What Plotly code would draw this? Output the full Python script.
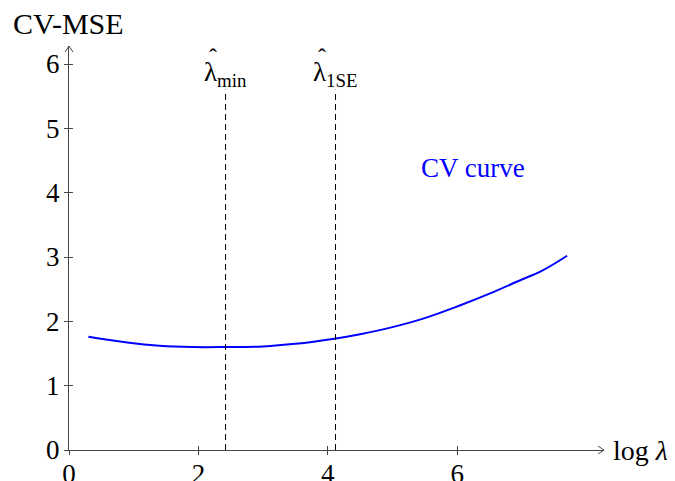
import plotly.graph_objects as go

# Data
log_lambda = [0.3, 0.9, 1.4, 1.9, 2.4, 3.0, 3.5, 4.1, 4.5, 5.0, 5.5, 6.0, 6.5, 7.0, 7.3, 7.7]
cv_mse = [1.76, 1.67, 1.62, 1.60, 1.60, 1.61, 1.65, 1.73, 1.80, 1.91, 2.05, 2.23, 2.43, 2.65, 2.78, 3.02]
lambda_min = 2.42
lambda_1se = 4.12
vline_top = 5.6
x_ticks = [0, 2, 4, 6]
y_ticks = [0, 1, 2, 3, 4, 5, 6]

FONT = "Liberation Serif"
tsize = 27
axis_col = "#444444"

ML, MR, MT, MB = 61, 79, 38, 39

fig = go.Figure()
fig.add_trace(go.Scatter(x=log_lambda, y=cv_mse, mode="lines",
                         line=dict(color="#0000ff", width=2, shape="spline", smoothing=1.0),
                         showlegend=False, hoverinfo="skip"))
for xv in [lambda_min, lambda_1se]:
    fig.add_trace(go.Scatter(x=[xv, xv], y=[0, vline_top], mode="lines",
                             line=dict(color="black", width=1, dash="6px,4px"),
                             showlegend=False, hoverinfo="skip"))
fig.add_trace(go.Scatter(x=[0], y=[0], xaxis="x2", yaxis="y2", mode="markers",
                         marker=dict(opacity=0), showlegend=False, hoverinfo="skip"))

xr = [0, 8.27]
yr = [0, 6.28]
common = dict(showgrid=False, zeroline=False, showline=True, linecolor=axis_col,
              linewidth=1, tickcolor=axis_col, ticklen=4, tickwidth=1, automargin=False)
fig.update_layout(
    width=675, height=481,
    margin=dict(l=ML, r=MR, t=MT, b=MB, autoexpand=False),
    plot_bgcolor="white", paper_bgcolor="white",
    font=dict(family=FONT, size=tsize, color="black"),
    xaxis=dict(range=xr, tickvals=x_ticks, ticks="inside",
               tickfont=dict(size=tsize), ticklabelstandoff=0, **common),
    yaxis=dict(range=yr, tickvals=y_ticks, ticks="inside",
               tickfont=dict(size=tsize), ticklabelstandoff=3, **common),
    xaxis2=dict(range=xr, tickvals=x_ticks, ticks="outside", showticklabels=False,
                overlaying="x", anchor="y", showgrid=False, zeroline=False,
                showline=False, tickcolor=axis_col, ticklen=4, automargin=False),
    yaxis2=dict(range=yr, tickvals=y_ticks, ticks="outside", showticklabels=False,
                overlaying="y", anchor="x", showgrid=False, zeroline=False,
                showline=False, tickcolor=axis_col, ticklen=4, automargin=False),
)

pw, ph = 675 - ML - MR, 481 - MT - MB
dx, dy = 6 / pw, 4 / ph
fig.add_shape(type="path", xref="paper", yref="paper",
              path=f"M {1-dx} {dy} L 1 0 L {1-dx} {-dy}",
              line=dict(color=axis_col, width=1))
dx2, dy2 = 4 / pw, 6 / ph
fig.add_shape(type="path", xref="paper", yref="paper",
              path=f"M {-dx2} {1-dy2} L 0 1 L {dx2} {1-dy2}",
              line=dict(color=axis_col, width=1))

fig.add_annotation(text="CV-MSE", xref="paper", yref="paper", x=(3 - ML)/pw, y=1 + 22/ph,
                   xanchor="left", yanchor="middle", showarrow=False, font=dict(size=30))
fig.add_annotation(text="log <i>λ</i>", xref="paper", yref="paper", x=1 + 7/pw, y=0,
                   xanchor="left", yanchor="middle", showarrow=False, font=dict(size=28))
for xv, sub, hs in [(lambda_min, "min", -13), (lambda_1se, "1SE", -14)]:
    fig.add_annotation(text=f"λ<sub>{sub}</sub>", x=xv, y=5.85, showarrow=False,
                       font=dict(size=tsize), xanchor="center", yanchor="middle")
    fig.add_annotation(text="ˆ", x=xv, y=5.85, showarrow=False,
                       font=dict(size=24), xanchor="center", yanchor="middle",
                       xshift=hs, yshift=17)
fig.add_annotation(text="CV curve", x=6.25, y=4.38, showarrow=False,
                   font=dict(size=27, color="#0000ff"))

fig.write_html("out.html")
